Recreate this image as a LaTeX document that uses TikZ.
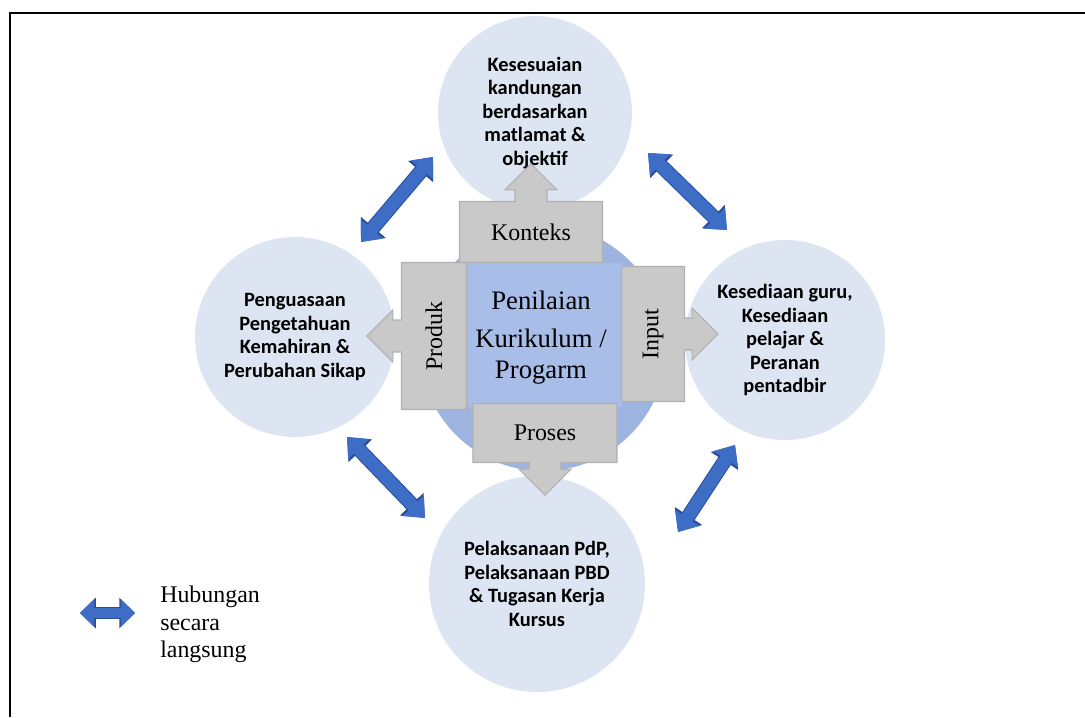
\documentclass[tikz,border=0pt]{standalone}
\usepackage{fontspec}
\setmainfont{Liberation Serif}
\newfontfamily\calibri{Carlito}
\usepackage{graphicx}
\usetikzlibrary{shapes.arrows,arrows.meta,positioning}
\definecolor{bubblefill}{HTML}{DEE5F2}
\definecolor{hubfill}{HTML}{9EB4E0}
\definecolor{corefill}{HTML}{A8BEE8}
\definecolor{boxgray}{HTML}{C9C9C9}
\definecolor{boxedge}{HTML}{B0B0B0}
\definecolor{linkblue}{HTML}{3D6DC4}
\definecolor{linkedge}{HTML}{2A4E9C}
\tikzset{
  bubble/.style={circle,fill=bubblefill,inner sep=0pt,align=center,
    font=\calibri\bfseries\fontsize{14.5}{16.7}\selectfont},
  gbox/.style={shape=arrow box,fill=boxgray,draw=boxedge,line width=0.8pt,
    inner sep=0pt,arrow box shaft width=0.8cm,arrow box head extend=0.25cm,
    arrow box head indent=0cm,arrow box tip angle=90,
    font=\fontsize{17}{20}\selectfont},
  link/.style={draw=linkblue,line width=9pt,
    {Triangle[width=20pt,length=12pt]}-{Triangle[width=20pt,length=12pt]},
    preaction={draw=linkedge,line width=10.4pt,
    {Triangle[width=22.4pt,length=13.6pt]}-{Triangle[width=22.4pt,length=13.6pt]}}},
  linksmall/.style={draw=linkblue,line width=7pt,
    {Triangle[width=19pt,length=10pt]}-{Triangle[width=19pt,length=10pt]},
    preaction={draw=linkedge,line width=8.2pt,
    {Triangle[width=21pt,length=11.2pt]}-{Triangle[width=21pt,length=11.2pt]}}}
}
\begin{document}
\begin{tikzpicture}[x=0.025cm,y=-0.025cm]
      \useasboundingbox (0,0) rectangle (1085,717);
      % outer frame
      \draw[line width=2pt] (10,717) -- (10,13) -- (1085,13);
      % bubbles round the centre
      \node [bubble,minimum size=4.85cm] (atas) at (535,113)
      {Kesesuaian\\kandungan\\berdasarkan\\matlamat \&\\objektif};
      \node [bubble,minimum size=5cm] (kiri) at (295,337)
      {Penguasaan\\Pengetahuan\\Kemahiran \&\\Perubahan Sikap};
      \node [bubble,minimum size=5cm] (kanan) at (785,340)
      {Kesediaan guru,\\Kesediaan\\pelajar \&\\Peranan\\pentadbir};
      \node [bubble,minimum size=5.4cm] (bawah) at (537,584)
      {Pelaksanaan PdP,\\Pelaksanaan PBD\\\& Tugasan Kerja\\Kursus};
      % centre
      \node [circle,fill=hubfill,minimum size=6.15cm] (hub) at (543,348) {};
      \node [fill=corefill,minimum width=3.875cm,minimum height=3.6cm]
      (core) at (544.5,335) {};
      \node [align=center,inner sep=0pt,font=\fontsize{19}{22}\selectfont]
      (judul) at (541,338) {Penilaian\\[5pt]Kurikulum /\\Progarm};
      % the four boxes
      \node [gbox,minimum width=3.575cm,minimum height=1.525cm,
      arrow box arrows={north:0.925cm from border}] (konteks) at (531,232)
      {Konteks};
      \node [gbox,minimum width=1.625cm,minimum height=3.675cm,
      arrow box arrows={west:0.85cm from border}] (produk) at (434,336)
      {\rotatebox{90}{Produk}};
      \node [gbox,minimum width=1.575cm,minimum height=3.375cm,
      arrow box arrows={east:0.825cm from border}] (input) at (653,334)
      {\rotatebox{90}{Input}};
      \node [gbox,minimum width=3.6cm,minimum height=1.475cm,
      arrow box arrows={south:0.8cm from border}] (proses) at (545,433)
      {Proses};
      % direct links
      \coordinate (ka1) at (361,242);
      \coordinate (ka2) at (433,157);
      \coordinate (kn1) at (648,153);
      \coordinate (kn2) at (727,230);
      \coordinate (kb1) at (347,437);
      \coordinate (kb2) at (425,518);
      \coordinate (nb1) at (678,532);
      \coordinate (nb2) at (735,445);
      \draw[link] (ka1) -- (ka2);
      \draw[link] (kn1) -- (kn2);
      \draw[link] (kb1) -- (kb2);
      \draw[link] (nb1) -- (nb2);
      % legend
      \coordinate (leg1) at (80,613);
      \coordinate (leg2) at (135,613);
      \draw[linksmall] (leg1) -- (leg2);
      \node [anchor=north west,inner sep=0pt,align=left,
      font=\fontsize{17}{19.5}\selectfont] (ket) at (160,586)
      {Hubungan\\secara\\langsung};
\end{tikzpicture}
\end{document}
